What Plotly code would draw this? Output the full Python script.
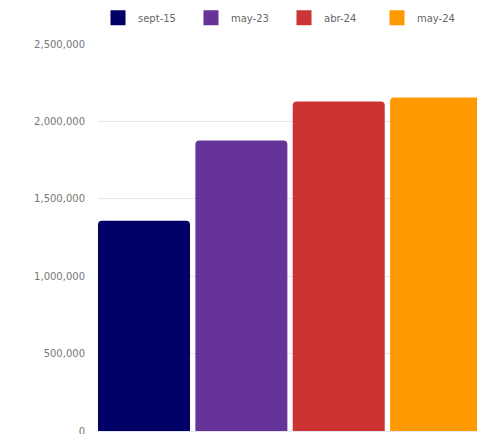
import plotly.graph_objects as go

periods = ["sept-15", "may-23", "abr-24", "may-24"]
values = [1358000, 1876000, 2128000, 2154000]
colors = ["#000066", "#663399", "#CC3333", "#FF9900"]
positions = [0, 1, 2, 3]

fig = go.Figure()
for p, v, c, x in zip(periods, values, colors, positions):
    fig.add_trace(go.Bar(x=[x], y=[v], name=p, marker=dict(color=c, line=dict(width=0)),
                         width=0.945, showlegend=False))
for p, c in zip(periods, colors):
    fig.add_trace(go.Scatter(x=[None], y=[None], mode="markers", name=p,
                             marker=dict(symbol="square", size=15, color=c)))

fig.update_layout(
    width=477, height=434,
    margin=dict(l=98, r=0, t=44, b=3),
    paper_bgcolor="white", plot_bgcolor="white",
    barmode="overlay", barcornerradius=4,
    font=dict(family="DejaVu Sans, sans-serif", size=10, color="#777777"),
    showlegend=True,
    legend=dict(orientation="h", x=0.0, y=1.105, xanchor="left", yanchor="top",
                font=dict(size=10, color="#666666"), itemwidth=30,
                entrywidth=48, entrywidthmode="pixels", traceorder="normal"),
    xaxis=dict(range=[-0.4725, 3.42], showticklabels=False, showgrid=False,
               zeroline=False, showline=True, linecolor="#e6e6f0", linewidth=1, ticks=""),
    yaxis=dict(range=[0, 2500000], tickvals=[0, 500000, 1000000, 1500000, 2000000, 2500000],
               tickformat=",", showgrid=True, gridcolor="#e6e6e6", gridwidth=1,
               zeroline=False, showline=False, ticks="", ticklabelstandoff=12,
               ticklabeloverflow="allow", automargin=False,
               tickfont=dict(size=10, color="#777777")),
)
fig.write_html("out.html")
